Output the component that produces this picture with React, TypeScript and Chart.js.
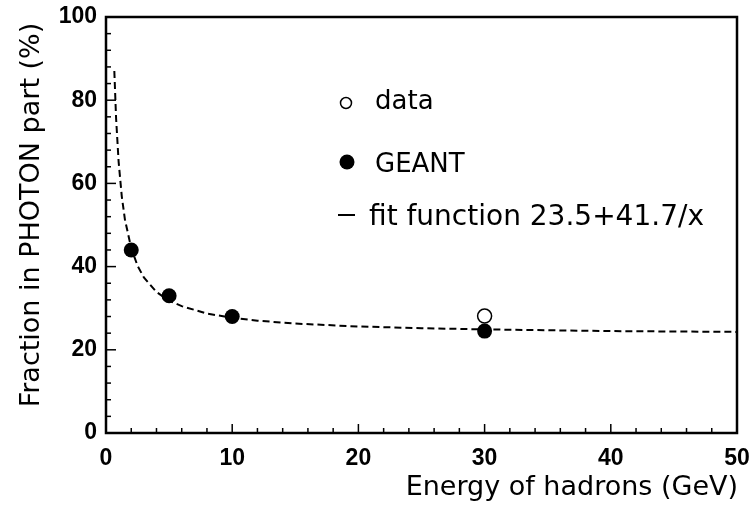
import React, { useEffect, useRef } from "react";
import { Chart, registerables } from "chart.js";

Chart.register(...registerables);

// ---- data ----
const GEANT_X = [2, 5, 10, 30];
const GEANT_Y = [44.0, 33.0, 28.0, 24.5];

const DATA_X = [30];
const DATA_Y = [28.1];

// fit curve points (dashed curve)
const FIT_X = [0.66, 0.8, 1, 1.25, 1.5, 2, 2.5, 3, 4, 5, 6, 8, 10, 12, 15, 20, 25, 30, 35, 40, 45, 50];
const FIT_Y = [87.0, 75.6, 65.2, 56.9, 51.3, 44.4, 40.2, 37.4, 33.9, 31.8, 30.5, 28.7, 27.7, 27.0, 26.3, 25.6, 25.2, 24.9, 24.7, 24.5, 24.4, 24.3];

const X_TICKS = [0, 10, 20, 30, 40, 50];
const Y_TICKS = [0, 20, 40, 60, 80, 100];

const X_TITLE = "Energy of hadrons (GeV)";
const Y_TITLE = "Fraction in PHOTON part (%)";
const LEGEND_DATA = "data";
const LEGEND_GEANT = "GEANT";
const LEGEND_FIT = "fit function 23.5+41.7/x";

const TITLE_FONT = "DejaVu Sans";
const TICK_FONT = "Liberation Sans";

const framePlugin = {
  id: "frameTicks",
  afterDatasetsDraw(chart: any) {
    const { ctx, chartArea } = chart;
    const xs = chart.scales.x;
    const ys = chart.scales.y;
    ctx.save();
    ctx.strokeStyle = "#000";
    ctx.lineWidth = 1.5;
    const xMaj = X_TICKS[1] - X_TICKS[0];
    for (let v = X_TICKS[0]; v <= X_TICKS[X_TICKS.length - 1] + 1e-9; v += xMaj / 5) {
      const px = xs.getPixelForValue(v);
      const major = Math.abs(v / xMaj - Math.round(v / xMaj)) < 1e-6;
      const len = major ? 9 : 5;
      ctx.beginPath();
      ctx.moveTo(px, chartArea.bottom);
      ctx.lineTo(px, chartArea.bottom - len);
      ctx.stroke();
    }
    const yMaj = Y_TICKS[1] - Y_TICKS[0];
    for (let v = Y_TICKS[0]; v <= Y_TICKS[Y_TICKS.length - 1] + 1e-9; v += yMaj / 5) {
      const py = ys.getPixelForValue(v);
      const major = Math.abs(v / yMaj - Math.round(v / yMaj)) < 1e-6;
      const len = major ? 10 : 5;
      ctx.beginPath();
      ctx.moveTo(chartArea.left, py);
      ctx.lineTo(chartArea.left + len, py);
      ctx.stroke();
    }
    ctx.lineWidth = 2.5;
    ctx.strokeRect(chartArea.left, chartArea.top, chartArea.right - chartArea.left, chartArea.bottom - chartArea.top);
    ctx.restore();
  },
  afterDraw(chart: any) {
    const { ctx, chartArea } = chart;
    ctx.save();
    ctx.fillStyle = "#000";
    ctx.strokeStyle = "#000";
    ctx.textBaseline = "alphabetic";
    ctx.textAlign = "left";
    // legend: data (open circle)
    ctx.font = `26px "${TITLE_FONT}"`;
    ctx.lineWidth = 1.5;
    ctx.beginPath();
    ctx.arc(346, 103, 5.5, 0, Math.PI * 2);
    ctx.stroke();
    ctx.fillText(LEGEND_DATA, 375, 109);
    // legend: GEANT (filled circle)
    ctx.beginPath();
    ctx.arc(347, 162, 7.5, 0, Math.PI * 2);
    ctx.fill();
    ctx.fillText(LEGEND_GEANT, 375, 172);
    // legend: fit (short line)
    ctx.lineWidth = 2;
    ctx.beginPath();
    ctx.moveTo(338, 215);
    ctx.lineTo(355, 215);
    ctx.stroke();
    ctx.font = `28px "${TITLE_FONT}"`;
    ctx.fillText(LEGEND_FIT, 369, 225);
    // axis titles
    ctx.font = `27px "${TITLE_FONT}"`;
    ctx.textAlign = "right";
    ctx.fillText(X_TITLE, chartArea.right + 1, 495);
    ctx.save();
    ctx.translate(39, 215);
    ctx.rotate(-Math.PI / 2);
    ctx.textAlign = "center";
    ctx.fillText(Y_TITLE, 0, 0);
    ctx.restore();
    ctx.restore();
  },
};

export default function App() {
  const ref = useRef<HTMLCanvasElement | null>(null);
  useEffect(() => {
    if (!ref.current) return;
    const chart = new Chart(ref.current, {
      type: "scatter",
      data: {
        datasets: [
          {
            label: "fit",
            data: FIT_X.map((x, i) => ({ x, y: FIT_Y[i] })),
            showLine: true,
            borderColor: "#000",
            borderWidth: 2,
            borderDash: [7, 4],
            pointRadius: 0,
            fill: false,
            tension: 0,
          },
          {
            label: "GEANT",
            data: GEANT_X.map((x, i) => ({ x, y: GEANT_Y[i] })),
            pointRadius: 7.5,
            pointBackgroundColor: "#000",
            pointBorderColor: "#000",
            pointBorderWidth: 0,
          },
          {
            label: "data",
            data: DATA_X.map((x, i) => ({ x, y: DATA_Y[i] })),
            pointRadius: 7,
            pointBackgroundColor: "#fff",
            pointBorderColor: "#000",
            pointBorderWidth: 1.5,
          },
        ],
      },
      options: {
        animation: false,
        responsive: false,
        layout: { padding: { top: 17, right: 18, left: 0, bottom: 0 } },
        plugins: { legend: { display: false }, tooltip: { enabled: false } },
        scales: {
          x: {
            type: "linear",
            min: X_TICKS[0],
            max: X_TICKS[X_TICKS.length - 1],
            afterBuildTicks: (s: any) => {
              s.ticks = X_TICKS.map((v) => ({ value: v }));
            },
            afterFit: (s: any) => {
              s.height = 83;
              s.paddingLeft = 0;
              s.paddingRight = 0;
            },
            grid: { display: false, drawTicks: false },
            border: { display: false },
            ticks: {
              color: "#000",
              padding: 12,
              maxRotation: 0,
              font: { family: TICK_FONT, size: 23, weight: "bold" },
            },
          },
          y: {
            type: "linear",
            min: Y_TICKS[0],
            max: Y_TICKS[Y_TICKS.length - 1],
            afterBuildTicks: (s: any) => {
              s.ticks = Y_TICKS.map((v) => ({ value: v }));
            },
            afterFit: (s: any) => {
              s.width = 106;
              s.paddingTop = 0;
              s.paddingBottom = 0;
            },
            grid: { display: false, drawTicks: false },
            border: { display: false },
            ticks: {
              color: "#000",
              padding: 9,
              font: { family: TICK_FONT, size: 23, weight: "bold" },
            },
          },
        },
      },
      plugins: [framePlugin],
    });
    return () => chart.destroy();
  }, []);
  return (
    <div style={{ position: "absolute", left: 0, top: 0, width: 755, height: 516, background: "#fff" }}>
      <canvas ref={ref} width={755} height={516} style={{ width: 755, height: 516 }} />
    </div>
  );
}
